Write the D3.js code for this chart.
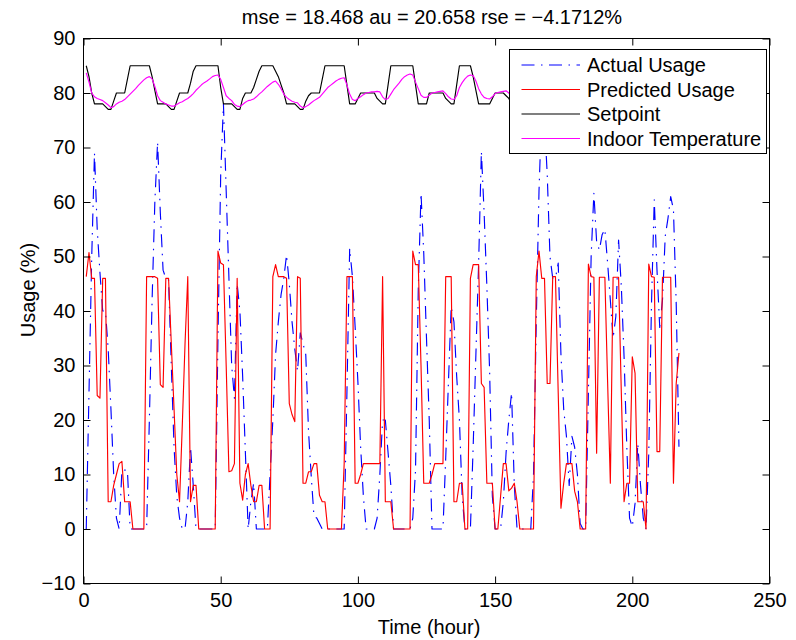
<!DOCTYPE html>
<html><head><meta charset="utf-8">
<script src="https://cdn.jsdelivr.net/npm/d3@7/dist/d3.min.js"></script>
<style>
body{margin:0;background:#fff}
text{font-family:"Liberation Sans",Arial,Helvetica,sans-serif;fill:#000}
</style>
</head><body>
<svg id="chart" width="796" height="640"></svg>
<script>
// ---------------- data ----------------
const titleText = "mse = 18.468 au = 20.658 rse = \u22124.1712%";
const xLabel = "Time (hour)";
const yLabel = "Usage (%)";
const xTicks = [0, 50, 100, 150, 200, 250];
const yTicks = [-10, 0, 10, 20, 30, 40, 50, 60, 70, 80, 90];
const seriesNames = ["Actual Usage", "Predicted Usage", "Setpoint", "Indoor Temperature"];

const actualUsage = [
 0,25,50,69,55,47,40,40,33,22, 10,2,0,10.8,10.8,10.8,0,0,0,0,
 0,0,0,20,42,60,71,58,47.5,46, 45.7,30,15,6,2,0,0,5,15,8,
 0,0,0,0,0,0,0,0,35,65, 78,62,46,30,24,45,40,28,14,0,
 5,8.4,0,0,0,0,0,10,20,32, 38,43,46,50.3,45,38,33,29,36,34,
 32,18,9.6,2.3,2,1,0,0,0,0, 0,0,0,0,0,25,51.5,46.3,37,27,
 15,6,0,0,0,0,2,10,20,20, 14,8,0,0,0,0,0,0,0,2,
 10.8,44,61.6,50.6,35,20,0,0,0,0, 0,13,27,40.8,38,28,20,6,0,0,
 0,15,32,48.8,69.3,58,44.5,29,6,0, 0,0,5,14,20,25,8,0,0,0,
 0,0,0,10,38,62,77,75,65,50, 46,46,48.8,32,22,17,8,17,15,10,
 1,0,0,25,50,61.6,52.7,51.2,54,55, 48.8,42,35,39,53,44.5,31.6,15,2,0.4,
 4.7,15.7,8,2,0,13.9,41.4,60.4,47.5,37, 42,53.7,57,61,58.6,41.4,15.1
];
const predictedUsage = [
 46.3,50.7,46,46,24.5,24,46,46,5,5, 8,10,12,12.4,5,5,5,0,0,0,
 0,0,46.3,46.3,46.3,46.3,46,26.5,26,46, 46,34,22,10,5,19,34,46.3,5,8,
 8,0,0,0,0,0,0,0,51,48.8, 48.5,30,10.5,10.7,12,46,8.4,5.3,10,12,
 8,5,5,8,8,0,0,0,46.3,48.5, 46.3,46.3,46.3,46,23,21,19.7,46.3,46,8.4,
 8.4,10.5,10.5,12,12,6.2,5,5,0,0, 0,0,0,0,12,46.3,46.3,46.3,8.4,8.4,
 10,12,12,12,12,12,12,12,46.3,5, 5,5,0,0,0,0,0,0,0,51,
 48.5,48.5,30,8.4,8.4,8.4,10,12,12,12, 12,46.3,46.3,46.3,5,5,8.4,8.4,0,0,
 46,48.5,48.5,48.5,26.7,26,8.4,8.4,8.4,0, 0,6,12,12,7,7.5,8.4,5,0,0,
 0,0,0,0,46.3,51,46,46,26.7,26.7, 46.3,46.3,25,3.8,8.4,12,12,12,6.9,5,
 0,0,0,48.6,46.3,46.2,13.9,46.2,46.2,46.2, 27,8.4,46.2,46.2,46.2,25,5,8.4,8.4,31.6,
 28.6,5,5,5,0,48.6,46.3,46.2,14.2,14.2, 46.2,46.2,46.2,46.2,8.4,26.7,32.3
];
const setpoint = [
 85,83,80,78,78,78,78,77.5,77,77, 78.5,80,80,80,80,82.5,85,85,85,85,
 85,85,85,85,83,80.5,78,78,78,78, 77.5,77,77,78.5,80,80,80,80,81.8,84,
 85,85,85,85,85,85,85,85,85,81, 78,78,78,78,77.5,77,77,79,80,80,
 80,81,82.5,84,85,85,85,85,85,84, 83,81.5,80,78,78,78,78,77.5,77,77,
 78.5,79.5,80,80,80,80,82.5,85,85,85, 85,85,85,85,85,81.5,78,78,78,79,
 80,80,80,80,80,80,79,78.5,78,78, 81.5,85,85,85,85,85,85,85,85,85,
 81.5,78,78,78,78,80,80,80,80,80, 80,79,78.5,78,78,81.5,85,85,85,85,
 85,83,80.5,78,78,78,78,78,79,80, 80,80,80,79.5,79,78,78
];
const indoorTemp = [
 83.7,82,80,79.3,79,78.8,78.6,78.2,77.8,77.3, 77.5,78,78.3,78.5,78.8,79.3,79.8,80.3,80.8,81.4,
 81.9,82.4,82.8,83,82.6,81.2,79.5,78.6,78.3,78, 77.8,77.6,77.6,77.9,78.2,78.4,78.7,79,79.4,79.9,
 80.5,81,81.5,81.9,82.2,82.6,83,83.2,83.3,82.5, 81,79.5,79,78.6,77.9,77.6,77.5,77.9,78.3,78.6,
 78.7,78.9,79.3,79.8,80.2,80.7,81.2,81.6,82,82.2, 81.6,80.8,79.8,79.2,78.8,78.5,78.3,78.2,77.6,77.3,
 77.5,77.8,78.2,78.6,78.9,79.2,79.8,80.4,81,81.4, 81.8,82.2,82.5,82.7,82.8,81.5,79.8,78.8,78.6,79,
 79.3,79.7,80,80.1,80.2,80.2,80.3,80.2,79.3,78.8, 79,79.8,80.6,81.2,81.8,82.5,83,83.3,83.5,83.3,
 82,80.8,79.6,79.2,79.2,79.6,80,80.1,80.2,80.3, 80.4,79.9,79.3,78.9,78.8,79.5,81,81.9,82.6,83.1,
 83.3,83.2,82.2,80.8,79.8,79.2,79,78.9,79.3,79.9, 80.1,80.2,80.3,80.4,80,79.5,79
];

// ---------------- layout ----------------
const svg = d3.select("#chart");
const L = 83.5, R = 769.5, T = 38.5, B = 583.5;
const x = d3.scaleLinear().domain([0, 250]).range([L, R]);
const y = d3.scaleLinear().domain([-10, 90]).range([B, T]);
const FS = 20;

svg.append("defs").append("clipPath").attr("id", "clip")
  .append("rect").attr("x", L).attr("y", T).attr("width", R - L).attr("height", B - T);

const plot = svg.append("g").attr("clip-path", "url(#clip)");
const line = d3.line().x(d => x(d[0])).y(d => y(d[1]));
const toPts = arr => arr.map((v, i) => [i + 1, v]);

const styles = [
  {data: actualUsage, color: "#0000ff", dash: "13,6.5,1.5,6.5"},
  {data: predictedUsage, color: "#ff0000", dash: null},
  {data: setpoint, color: "#000000", dash: null},
  {data: indoorTemp, color: "#ff00ff", dash: null}
];
styles.forEach(s => {
  plot.append("path").attr("d", line(toPts(s.data)))
    .attr("fill", "none").attr("stroke", s.color).attr("stroke-width", 1.15)
    .attr("stroke-linejoin", "round")
    .attr("stroke-dasharray", s.dash);
});

// axes
function styleAxis(g) {
  g.select(".domain").remove();
  g.selectAll("text").attr("font-size", FS).attr("font-family", "Liberation Sans, Arial, sans-serif").attr("fill", "#000");
  g.selectAll("line").attr("stroke", "#000");
}
svg.append("g").attr("transform", `translate(0,${B})`)
  .call(d3.axisBottom(x).tickValues(xTicks).tickSizeInner(-7).tickSizeOuter(0).tickPadding(9).tickFormat(d3.format("d")))
  .call(styleAxis);
svg.append("g").attr("transform", `translate(0,${T})`)
  .call(d3.axisTop(x).tickValues(xTicks).tickSizeInner(-7).tickSizeOuter(0).tickFormat(""))
  .call(styleAxis);
svg.append("g").attr("transform", `translate(${L},0)`)
  .call(d3.axisLeft(y).tickValues(yTicks).tickSizeInner(-7).tickSizeOuter(0).tickPadding(8).tickFormat(d3.format("d")))
  .call(styleAxis);
svg.append("g").attr("transform", `translate(${R},0)`)
  .call(d3.axisRight(y).tickValues(yTicks).tickSizeInner(-7).tickSizeOuter(0).tickFormat(""))
  .call(styleAxis);
svg.append("rect").attr("x", L).attr("y", T).attr("width", R - L).attr("height", B - T)
  .attr("fill", "none").attr("stroke", "#000").attr("stroke-width", 1);

// texts
svg.append("text").attr("x", 432).attr("y", 24).attr("text-anchor", "middle").attr("font-size", FS).text(titleText);
svg.append("text").attr("x", 429).attr("y", 634).attr("text-anchor", "middle").attr("font-size", FS).text(xLabel);
svg.append("text").attr("transform", "translate(35,290) rotate(-90)").attr("text-anchor", "middle").attr("font-size", FS).text(yLabel);

// legend
const lg = svg.append("g");
lg.append("rect").attr("x", 509.5).attr("y", 49.5).attr("width", 257).attr("height", 104)
  .attr("fill", "#fff").attr("stroke", "#000").attr("stroke-width", 1);
const rowY = [65, 89.5, 114, 138.5];
seriesNames.forEach((n, i) => {
  lg.append("line").attr("x1", 521.5).attr("x2", 580).attr("y1", rowY[i]).attr("y2", rowY[i])
    .attr("stroke", styles[i].color).attr("stroke-width", 1.15).attr("stroke-dasharray", styles[i].dash);
  lg.append("text").attr("x", 587).attr("y", rowY[i]).attr("dy", "0.36em").attr("font-size", FS).text(n);
});
</script>
</body></html>
